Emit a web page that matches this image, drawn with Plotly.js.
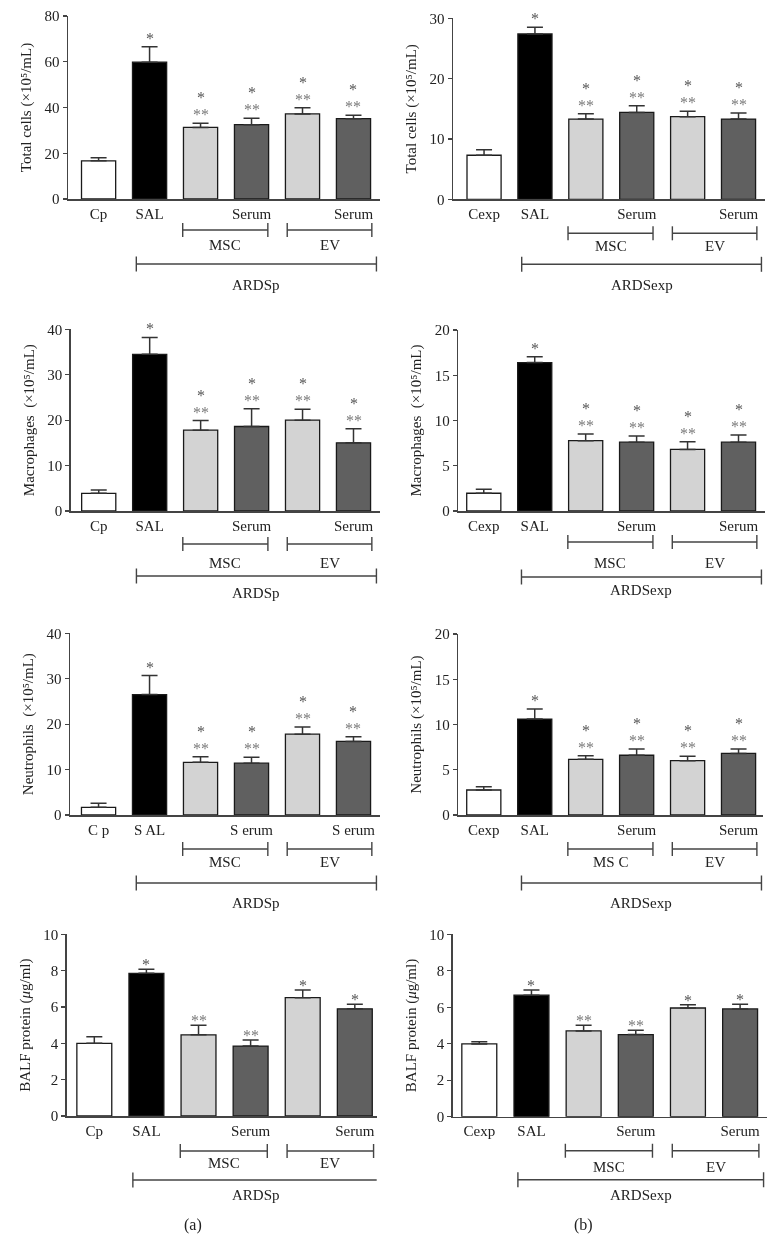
<!DOCTYPE html>
<html><head><meta charset="utf-8">
<script src="https://cdn.plot.ly/plotly-3.0.1.min.js"></script>
<style>html,body{margin:0;padding:0;background:#fff}#chart{width:778px;height:1258px;filter:grayscale(100%)}</style>
</head><body><div id="chart"></div>
<script>
// ---- data ----
const groups = ['Control', 'SAL', 'MSC', 'MSC Serum', 'EV', 'EV Serum'];
const ticksP = ['Cp', 'SAL', '', 'Serum', '', 'Serum'];
const ticksExp = ['Cexp', 'SAL', '', 'Serum', '', 'Serum'];
const ticksPNeu = ['C p', 'S AL', '', 'S erum', '', 'S erum'];
const barColors = ['#ffffff', '#000000', '#d3d3d3', '#606060', '#d3d3d3', '#606060'];

const totalCellsP = [16.7, 59.8, 31.3, 32.5, 37.2, 35.1];
const totalCellsPSem = [1.3, 6.8, 1.8, 2.8, 2.7, 1.5];
const totalCellsExp = [7.3, 27.4, 13.3, 14.4, 13.7, 13.3];
const totalCellsExpSem = [0.9, 1.1, 0.9, 1.1, 0.9, 1.0];
const macroP = [3.9, 34.5, 17.8, 18.6, 20.0, 15.0];
const macroPSem = [0.7, 3.7, 2.1, 3.9, 2.4, 3.1];
const macroExp = [1.96, 16.4, 7.77, 7.6, 6.8, 7.6];
const macroExpSem = [0.45, 0.65, 0.73, 0.7, 0.86, 0.8];
const neutroP = [1.7, 26.5, 11.6, 11.4, 17.8, 16.2];
const neutroPSem = [0.9, 4.2, 1.2, 1.3, 1.6, 1.0];
const neutroExp = [2.76, 10.6, 6.15, 6.6, 6.0, 6.8];
const neutroExpSem = [0.35, 1.1, 0.4, 0.7, 0.5, 0.5];
const balfP = [4.0, 7.85, 4.47, 3.85, 6.51, 5.9];
const balfPSem = [0.36, 0.22, 0.53, 0.33, 0.42, 0.25];
const balfExp = [3.99, 6.66, 4.7, 4.5, 5.96, 5.91];
const balfExpSem = [0.12, 0.29, 0.31, 0.24, 0.18, 0.25];

const starVsControl = [0, 1, 1, 1, 1, 1];
const starVsSal = [0, 0, 1, 1, 1, 1];
const starVsControlBalf = [0, 1, 0, 0, 1, 1];
const starVsSalBalf = [0, 0, 1, 1, 0, 0];

// ---- layout helpers ----
const W = 778, H = 1258;
const FONT = 'Liberation Serif, Times New Roman, serif';
const px2x = p => p / W;
const px2y = p => 1 - p / H;

const panels = [
  {vals: totalCellsP, sem: totalCellsPSem, ticks: ticksP, s1: starVsControl, s2: starVsSal, ardsLabel: 'ARDSp', mscLabel: 'MSC',
   title: 'Total cells (×10⁵/mL)', ymax: 80, dtick: 20, box: [68, 380, 16, 199], xr: [-0.6, 5.52], off: [31, 46, 65, 86], starGap: 11.5},
  {vals: totalCellsExp, sem: totalCellsExpSem, ticks: ticksExp, s1: starVsControl, s2: starVsSal, ardsLabel: 'ARDSexp', mscLabel: 'MSC',
   title: 'Total cells (×10⁵/mL)', ymax: 30, dtick: 10, box: [453, 765, 18.3, 199.3], xr: [-0.61, 5.52], off: [34, 47, 65, 86], starGap: 11.5},
  {vals: macroP, sem: macroPSem, ticks: ticksP, s1: starVsControl, s2: starVsSal, ardsLabel: 'ARDSp', mscLabel: 'MSC',
   title: 'Macrophages  (×10⁵/mL)', ymax: 40, dtick: 10, box: [70.7, 380, 329.3, 511], xr: [-0.55, 5.52], off: [33, 52, 65, 82], starGap: 11.5},
  {vals: macroExp, sem: macroExpSem, ticks: ticksExp, s1: starVsControl, s2: starVsSal, ardsLabel: 'ARDSexp', mscLabel: 'MSC',
   title: 'Macrophages  (×10⁵/mL)', ymax: 20, dtick: 5, box: [458.3, 765, 330, 511], xr: [-0.5, 5.52], off: [31, 52, 66, 79], starGap: 11.5},
  {vals: neutroP, sem: neutroPSem, ticks: ticksPNeu, s1: starVsControl, s2: starVsSal, ardsLabel: 'ARDSp', mscLabel: 'MSC',
   title: 'Neutrophils  (×10⁵/mL)', ymax: 40, dtick: 10, box: [70, 380, 633.3, 815], xr: [-0.56, 5.52], off: [34, 47, 68, 88], starGap: 11.5},
  {vals: neutroExp, sem: neutroExpSem, ticks: ticksExp, s1: starVsControl, s2: starVsSal, ardsLabel: 'ARDSexp', mscLabel: 'MS C',
   title: 'Neutrophils (×10⁵/mL)', ymax: 20, dtick: 5, box: [458.3, 763, 634, 815], xr: [-0.5, 5.48], off: [34, 47, 68, 88], starGap: 11.5},
  {vals: balfP, sem: balfPSem, ticks: ticksP, s1: starVsControlBalf, s2: starVsSalBalf, ardsLabel: 'ARDSp', mscLabel: 'MSC',
   title: 'BALF protein (<i>μ</i>g/ml)', ymax: 10, dtick: 2, box: [66.7, 376.7, 934.3, 1116], xr: [-0.53, 5.42], off: [35, 47, 64, 79], starGap: 7.7},
  {vals: balfExp, sem: balfExpSem, ticks: ticksExp, s1: starVsControlBalf, s2: starVsSalBalf, ardsLabel: 'ARDSexp', mscLabel: 'MSC',
   title: 'BALF protein (<i>μ</i>g/ml)', ymax: 10, dtick: 2, box: [452.7, 766.7, 934.3, 1116.7], xr: [-0.51, 5.51], off: [34, 50, 63, 78], starGap: 7.7}
];

const traces = [];
const layout = {
  width: W, height: H, margin: {l: 0, r: 0, t: 0, b: 0},
  paper_bgcolor: '#fff', plot_bgcolor: '#fff', showlegend: false,
  font: {family: FONT, size: 15, color: '#222'},
  annotations: [], shapes: []
};

const LINE = '#444';
const TXT = '#222';
const BR = {msc: [1.65, 3.32], ev: [3.70, 5.36], ards: [0.74, 5.45]};

panels.forEach((p, k) => {
  const n = k + 1;
  const xa = 'x' + (n === 1 ? '' : n), ya = 'y' + (n === 1 ? '' : n);
  const xKey = 'xaxis' + (n === 1 ? '' : n), yKey = 'yaxis' + (n === 1 ? '' : n);
  const [l, r, t, b] = p.box;
  const xIdx = groups.map((g, i) => i);
  const shownIdx = xIdx.filter(i => p.ticks[i] !== '');
  traces.push({
    type: 'bar', x: xIdx, y: p.vals, width: 0.67, xaxis: xa, yaxis: ya,
    marker: {color: barColors, line: {color: '#1a1a1a', width: 1.3}},
    error_y: {type: 'data', array: p.sem, arrayminus: p.sem.map(() => 0), symmetric: false,
              color: '#333', thickness: 1.5, width: 8},
    hoverinfo: 'skip', text: groups, textposition: 'none'
  });
  layout[xKey] = {
    domain: [px2x(l), px2x(r)], anchor: ya, range: p.xr, fixedrange: true,
    tickmode: 'array', tickvals: shownIdx, ticktext: shownIdx.map(i => p.ticks[i]), ticks: '',
    showgrid: false, zeroline: false,
    showline: true, linecolor: LINE, linewidth: 1.5, tickfont: {family: FONT, size: 15, color: TXT}
  };
  layout[yKey] = {
    domain: [px2y(b), px2y(t)], anchor: xa, range: [0, p.ymax], dtick: p.dtick, tick0: 0, fixedrange: true,
    ticks: 'outside', ticklen: 4, tickcolor: LINE, tickwidth: 1.3, showgrid: false, zeroline: false,
    showline: true, linecolor: LINE, linewidth: 1.5, tickfont: {family: FONT, size: 15, color: TXT},
    title: {text: p.title, font: {family: FONT, size: 15, color: TXT}, standoff: 9}
  };
  // significance marks
  p.vals.forEach((v, i) => {
    const top = v + p.sem[i];
    const base = {xref: xa, yref: ya, x: i, y: top, showarrow: false, yanchor: 'middle', xanchor: 'center'};
    if (p.s2[i]) {
      layout.annotations.push(Object.assign({}, base, {text: '**', yshift: p.starGap - 3, font: {family: FONT, size: 16, color: '#7a7a7a'}}));
      if (p.s1[i]) layout.annotations.push(Object.assign({}, base, {text: '*', yshift: p.starGap + 14, font: {family: FONT, size: 16, color: '#555'}}));
    } else if (p.s1[i]) {
      layout.annotations.push(Object.assign({}, base, {text: '*', yshift: p.starGap - 3, font: {family: FONT, size: 16, color: '#555'}}));
    }
  });
  // brackets
  const bracket = (x0, x1, offPx, half) => {
    const yy = px2y(b + offPx);
    layout.shapes.push({type: 'line', xref: xa, yref: 'paper', x0: x0, x1: x1, y0: yy, y1: yy, line: {color: LINE, width: 1.4}});
    [x0, x1].forEach(xx => layout.shapes.push({type: 'line', xref: xa, yref: 'paper', x0: xx, x1: xx,
      y0: px2y(b + offPx - half), y1: px2y(b + offPx + half), line: {color: LINE, width: 1.4}}));
  };
  bracket(BR.msc[0], BR.msc[1], p.off[0], 7);
  bracket(BR.ev[0], BR.ev[1], p.off[0], 7);
  bracket(BR.ards[0], BR.ards[1], p.off[2], 7.5);
  const lab = (text, x, offPx) => layout.annotations.push({xref: xa, yref: 'paper', x: x, y: px2y(b + offPx),
    text: text, showarrow: false, xanchor: 'center', yanchor: 'middle', font: {family: FONT, size: 15, color: TXT}});
  lab(p.mscLabel, (BR.msc[0] + BR.msc[1]) / 2, p.off[1]);
  lab('EV', (BR.ev[0] + BR.ev[1]) / 2, p.off[1]);
  lab(p.ardsLabel, (BR.ards[0] + BR.ards[1]) / 2, p.off[3]);
});

layout.annotations.push({xref: 'paper', yref: 'paper', x: px2x(193), y: px2y(1225), text: '(a)', showarrow: false,
  xanchor: 'center', yanchor: 'middle', font: {family: FONT, size: 16, color: TXT}});
layout.annotations.push({xref: 'paper', yref: 'paper', x: px2x(583), y: px2y(1225), text: '(b)', showarrow: false,
  xanchor: 'center', yanchor: 'middle', font: {family: FONT, size: 16, color: TXT}});

Plotly.newPlot('chart', traces, layout, {staticPlot: true, displayModeBar: false});
</script>
</body></html>
